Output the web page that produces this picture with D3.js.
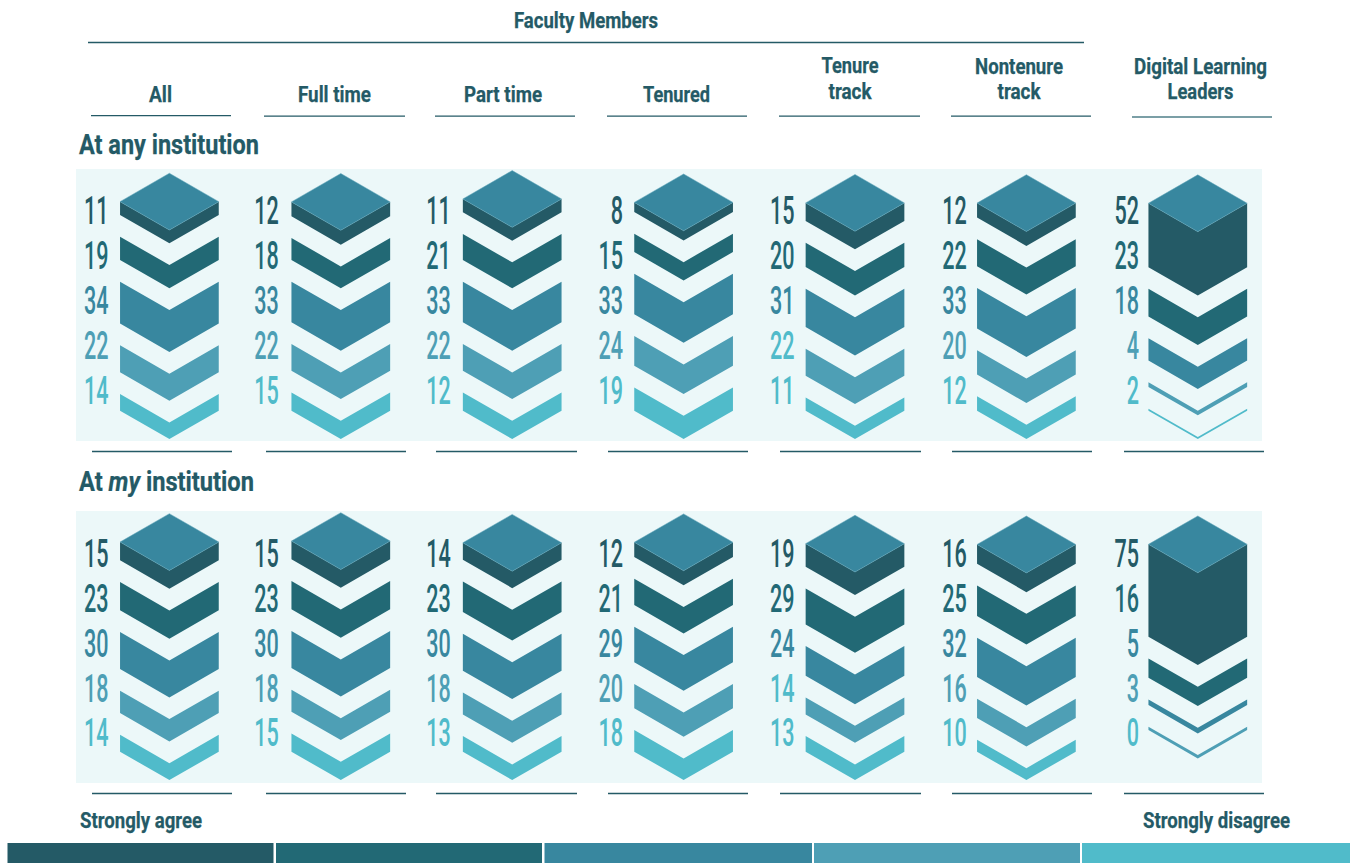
<!DOCTYPE html>
<html><head><meta charset="utf-8">
<script src="https://cdn.jsdelivr.net/npm/d3@7"></script>
<style>
html,body{margin:0;padding:0;background:#fff;overflow:hidden}
svg{display:block}
.h{font-family:Roboto,sans-serif;font-weight:700;fill:#245a66;stroke:#245a66;stroke-width:0.25}
.n{font-family:Roboto,sans-serif;font-weight:500}
</style></head><body>
<svg id="c" width="1354" height="863"></svg>
<script>
// Column headings
const groups = ["All","Full time","Part time","Tenured","Tenure track","Nontenure track","Digital Learning Leaders"];
const levels = ["Strongly agree","Agree","Neutral","Disagree","Strongly disagree"];

// Printed labels, At any institution
const anyLabels = [[11,19,34,22,14],[12,18,33,22,15],[11,21,33,22,12],[8,15,33,24,19],[15,20,31,22,11],[12,22,33,20,12],[52,23,18,4,2]];
// Printed labels, At my institution
const myLabels = [[15,23,30,18,14],[15,23,30,18,15],[14,23,30,18,13],[12,21,29,20,18],[19,29,24,14,13],[16,25,32,16,10],[75,16,5,3,0]];
// Band values read from the drawn thickness of each shape
const anyValues = [[10.9,19.1,34.4,22.1,13.7],[11.8,18,33.3,21.9,15],[10.9,21.3,33.3,21.9,15],[7.9,15,33.3,24.3,19.1],[14.8,20,31.4,22.1,10.9],[11.8,22.1,33.3,20,11.8],[52.4,22.7,18.3,3.8,1.7]];
const myValues = [[15,23.2,30.3,18.3,13.9],[15,23.2,30.3,18,15],[13.9,25.1,30.3,18,12.8],[12,21.6,29.2,19.9,17.8],[18.9,29.5,24.3,13.9,12.8],[15.8,25.1,32.2,15.8,9.8],[75.7,15.8,4.6,2.7,0]];
// Colour index of each printed label
const anyLabelColors = [[0,1,2,3,4],[0,1,2,3,4],[0,1,2,3,4],[0,1,2,3,4],[0,1,2,4,4],[0,1,2,3,4],[0,1,2,3,4]];
const myLabelColors = [[0,1,2,3,4],[0,1,2,3,4],[0,1,2,3,4],[0,1,2,3,4],[0,1,2,4,4],[0,1,2,3,4],[0,1,2,3,4]];

const palette = ["#245a66","#226975","#38879f","#4e9fb5","#50bbca"];
const ink = "#245a66";

const svg = d3.select("#c");
const colX = d3.scaleLinear().domain([0,6]).range([169.4,1197.8]);
const thick = d3.scaleLinear().domain([0,100]).range([0,122]);
const color = d3.scaleOrdinal().domain(levels).range(palette);
const halfW = 49.35, rise = 28.4, gap = 21.7;
const labelOffset = [61,62,61.4,60.7,60.4,59.7,58.7];

function txt(s,x,y,size,w,anchor){
  const t = svg.append("text").attr("class","h").attr("x",x).attr("y",y)
    .attr("font-size",size).attr("text-anchor",anchor||"middle").text(s);
  if(w) t.attr("textLength",w).attr("lengthAdjust","spacingAndGlyphs");
  return t;
}
function rule(x1,x2,y,sw,col){
  svg.append("line").attr("x1",x1).attr("x2",x2).attr("y1",y).attr("y2",y)
    .attr("stroke",col||ink).attr("stroke-width",sw||1.3);
}

// Headings
const hs = 22;
txt("Faculty Members",586,27.6,hs,144);
rule(88,1084,42.5);
txt("All",160.5,102.4,hs,23);
txt("Full time",334.5,102.4,hs,73);
txt("Part time",503,102.4,hs,78);
txt("Tenured",676.5,102.4,hs,67);
txt("Tenure",850,73.4,hs,57);
txt("track",850,99.4,hs,43);
txt("Nontenure",1019,74.4,hs,88);
txt("track",1019,99.4,hs,43);
txt("Digital Learning",1200.5,74.4,hs,133);
txt("Leaders",1200.5,99.4,hs,66);
[[91,231,115.7],[264,405,116.2],[435,575,116.2],[607,747,116.2],[779,920,116.2],[951,1091,116.2]].forEach(r=>rule(r[0],r[1],r[2]));
rule(1132,1272,117,1.4,"#4f7f88");

txt("At any institution",79,154,28,180,"start");
const my = svg.append("text").attr("class","h").attr("font-size",28);
my.append("tspan").text("At ");
my.append("tspan").attr("font-style","italic").text("my");
my.append("tspan").text(" institution");
my.attr("transform",`translate(79,491) scale(${175/my.node().getComputedTextLength()},1)`);

const underRules = [[92,232],[266,406],[436,577],[608,748],[780,921],[952,1092],[1124,1264]];

function panel(top,bottom,base,labelY,labels,values,labelColors,ruleY){
  svg.append("rect").attr("x",76).attr("y",top).attr("width",1186).attr("height",bottom-top).attr("fill","#ecf8f9");
  underRules.forEach(r=>rule(r[0],r[1],ruleY));
  groups.forEach((g,ci)=>{
    const cx = colX(ci), vals = values[ci];
    const col = svg.append("g").attr("class","col").datum(g);
    let y = base - thick(d3.sum(vals)) - 4*gap;
    const y0 = y;
    vals.forEach((v,li)=>{
      if(v<=0) return;
      const t = thick(v);
      const p = d3.path();
      p.moveTo(cx-halfW,y); p.lineTo(cx,y+rise); p.lineTo(cx+halfW,y);
      p.lineTo(cx+halfW,y+t); p.lineTo(cx,y+rise+t); p.lineTo(cx-halfW,y+t); p.closePath();
      col.append("path").attr("d",p.toString()).attr("fill",color(levels[li]));
      y += t + gap;
    });
    const d = d3.path();
    d.moveTo(cx-halfW,y0); d.lineTo(cx,y0-rise); d.lineTo(cx+halfW,y0); d.lineTo(cx,y0+rise); d.closePath();
    col.append("path").attr("d",d.toString()).attr("fill",palette[2]).attr("stroke","#5fa5b8").attr("stroke-width",0.5);
    labels[ci].forEach((l,li)=>{
      col.append("text").attr("class","n").attr("text-anchor","end")
        .attr("transform",`translate(${cx-labelOffset[ci]},${labelY[li]}) scale(0.56,1)`)
        .attr("font-size",38.5).attr("fill",palette[labelColors[ci][li]]).text(l);
    });
  });
}
panel(169,441,410.7,[224,269,314,359,403.5],anyLabels,anyValues,anyLabelColors,451.5);
panel(511,783,751.7,[567.3,612.3,656.7,701.5,746],myLabels,myValues,myLabelColors,793.5);

// Legend
txt("Strongly agree",80,828,hs,122,"start");
txt("Strongly disagree",1143,828,hs,147,"start");
const legendEdges = [[7.5,273.5],[276,542],[544.5,812],[814,1080],[1082,1350]];
svg.selectAll("rect.leg").data(levels).join("rect").attr("class","leg")
  .attr("x",(d,i)=>legendEdges[i][0]).attr("y",843)
  .attr("width",(d,i)=>legendEdges[i][1]-legendEdges[i][0]).attr("height",20)
  .attr("fill",d=>color(d));
</script>
</body></html>
